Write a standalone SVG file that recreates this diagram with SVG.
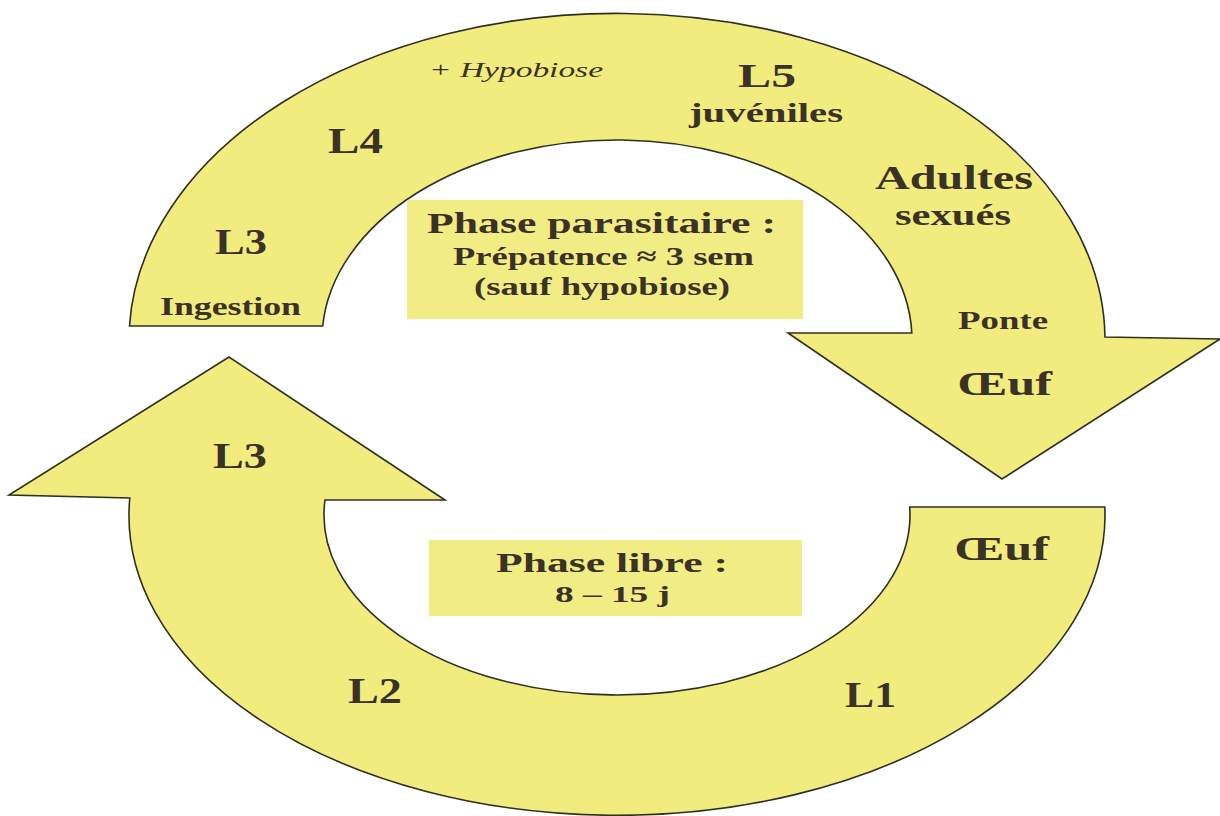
<svg xmlns="http://www.w3.org/2000/svg" width="1220" height="816" viewBox="0 0 1220 816">
<style>
.arrow{fill:#F2EC7E;stroke:#2f2f22;stroke-width:1.6;stroke-linejoin:miter}
.box{fill:#F1EC84}
.t{font-family:"Liberation Serif","Times New Roman",serif;font-weight:bold;fill:#3a3226}
.it{font-family:"Liberation Serif","Times New Roman",serif;font-style:italic;fill:#3a3226}
</style>
<rect width="1220" height="816" fill="#ffffff"/>
<g id="connectors">
<path id="arrow-parasitic" class="arrow" d="M129.5,326 A488,327 0 0,1 1105,337 L1220,339 L1002,479 L788,333 L911.8,333 A295,200 0 0,0 322.7,326 Z"/>
<path id="arrow-free" class="arrow" d="M1104.8,507 A488,300 0 1,1 129.8,498 L9,495 L229,357 L445,500 L325,500 A293,180 0 1,0 909.7,507 Z"/>
</g>
<g id="box-parasitic">
<rect class="box" x="407" y="200" width="396" height="119"/>
<text class="t" x="427" y="233" font-size="30" textLength="349" lengthAdjust="spacingAndGlyphs">Phase parasitaire :</text>
<text class="t" x="453" y="265" font-size="26" textLength="301" lengthAdjust="spacingAndGlyphs">Prépatence ≈ 3 sem</text>
<text class="t" x="474" y="295" font-size="26" textLength="256" lengthAdjust="spacingAndGlyphs">(sauf hypobiose)</text>
</g>
<g id="box-free">
<rect class="box" x="429" y="540" width="373" height="76"/>
<text class="t" x="496" y="572" font-size="27" textLength="232" lengthAdjust="spacingAndGlyphs">Phase libre :</text>
<text class="t" x="555" y="602" font-size="24" textLength="115" lengthAdjust="spacingAndGlyphs">8 – 15 j</text>
</g>
<g id="stage-l3-ingestion">
<text class="t" x="215" y="254" font-size="35" textLength="52" lengthAdjust="spacingAndGlyphs">L3</text>
<text class="t" x="160" y="315" font-size="25" textLength="141" lengthAdjust="spacingAndGlyphs">Ingestion</text>
</g>
<g id="stage-l4">
<text class="t" x="328" y="153" font-size="35" textLength="55" lengthAdjust="spacingAndGlyphs">L4</text>
<text class="it" x="429" y="77" font-size="21" textLength="174" lengthAdjust="spacingAndGlyphs">+ Hypobiose</text>
</g>
<g id="stage-l5">
<text class="t" x="738" y="87" font-size="33" textLength="58" lengthAdjust="spacingAndGlyphs">L5</text>
<text class="t" x="689" y="122" font-size="28" textLength="154" lengthAdjust="spacingAndGlyphs">juvéniles</text>
</g>
<g id="stage-adultes">
<text class="t" x="875" y="189" font-size="33" textLength="158" lengthAdjust="spacingAndGlyphs">Adultes</text>
<text class="t" x="895" y="225" font-size="29" textLength="116" lengthAdjust="spacingAndGlyphs">sexués</text>
</g>
<g id="stage-ponte">
<text class="t" x="958" y="329" font-size="25" textLength="90" lengthAdjust="spacingAndGlyphs">Ponte</text>
<text class="t" x="957" y="395" font-size="33" textLength="95" lengthAdjust="spacingAndGlyphs">Œuf</text>
</g>
<g id="stage-oeuf">
<text class="t" x="954" y="560" font-size="33" textLength="95" lengthAdjust="spacingAndGlyphs">Œuf</text>
</g>
<g id="stage-l1">
<text class="t" x="845" y="707" font-size="35" textLength="51" lengthAdjust="spacingAndGlyphs">L1</text>
</g>
<g id="stage-l2">
<text class="t" x="348" y="703" font-size="35" textLength="54" lengthAdjust="spacingAndGlyphs">L2</text>
</g>
<g id="stage-l3-free">
<text class="t" x="213" y="468" font-size="35" textLength="54" lengthAdjust="spacingAndGlyphs">L3</text>
</g>
</svg>
